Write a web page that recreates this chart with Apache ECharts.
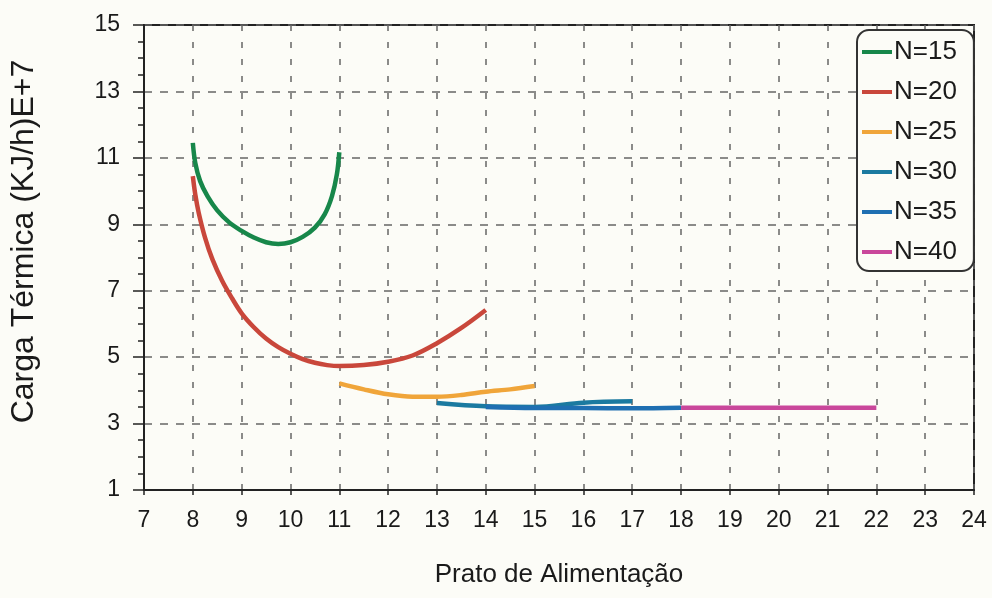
<!DOCTYPE html>
<html>
<head>
<meta charset="utf-8">
<script src="https://cdn.jsdelivr.net/npm/echarts@6/dist/echarts.min.js"></script>
<style>
html,body{margin:0;padding:0;background:#fcfcf7;}
#chart{width:992px;height:598px;}
</style>
</head>
<body>
<div id="chart"></div>
<script>
// ---- data ----
const seriesNames = ["N=15", "N=20", "N=25", "N=30", "N=35", "N=40"];
const seriesColors = ["#17874a", "#c9473b", "#f0a53a", "#1b7aa0", "#1f6fb2", "#c9479b"];

const feed15 = [8.0, 8.05, 8.15, 8.3, 8.5, 8.75, 9.0, 9.25, 9.5, 9.75, 10.0, 10.25, 10.5, 10.7, 10.85, 10.95, 11.0];
const load15 = [11.45, 10.85, 10.3, 9.85, 9.42, 9.05, 8.8, 8.6, 8.46, 8.41, 8.46, 8.62, 8.9, 9.3, 9.85, 10.5, 11.17];

const feed20 = [8.0, 8.05, 8.12, 8.25, 8.4, 8.6, 8.8, 9.0, 9.25, 9.5, 9.75, 10.0, 10.25, 10.5, 10.75, 11.0, 11.5, 12.0, 12.5, 13.0, 13.5, 14.0];
const load20 = [10.45, 9.9, 9.35, 8.6, 7.95, 7.3, 6.78, 6.32, 5.9, 5.56, 5.3, 5.1, 4.94, 4.83, 4.76, 4.73, 4.76, 4.86, 5.05, 5.42, 5.88, 6.42];

const feed25 = [11, 11.5, 12, 12.5, 13, 13.5, 14, 14.5, 15];
const load25 = [4.21, 4.03, 3.88, 3.81, 3.81, 3.86, 3.96, 4.03, 4.13];

const feed30 = [13, 14, 15, 16, 17];
const load30 = [3.62, 3.52, 3.50, 3.63, 3.67];

const feed35 = [14, 15, 16, 17, 18];
const load35 = [3.50, 3.47, 3.47, 3.46, 3.48];

const feed40 = [18, 19, 20, 21, 22];
const load40 = [3.48, 3.48, 3.48, 3.48, 3.48];

const xTicks = {min: 7, max: 24, step: 1};
const yTicks = {min: 1, max: 15, step: 2};

// ---- build ----
const feeds = [feed15, feed20, feed25, feed30, feed35, feed40];
const loads = [load15, load20, load25, load30, load35, load40];

const FONT = "'Liberation Sans', Arial, sans-serif";
const chart = echarts.init(document.getElementById('chart'));

const series = seriesNames.map((name, i) => ({
  name: name,
  type: 'line',
  smooth: 0.35,
  showSymbol: false,
  symbol: 'none',
  lineStyle: {width: 4.5, color: seriesColors[i]},
  itemStyle: {color: seriesColors[i]},
  data: feeds[i].map((x, k) => [x, loads[i][k]])
}));

chart.setOption({
  backgroundColor: '#fcfcf7',
  animation: false,
  grid: {
    left: 144, right: 18, top: 25, bottom: 108,
    show: true, borderColor: '#222', borderWidth: 2, backgroundColor: 'transparent'
  },
  legend: {
    orient: 'vertical',
    left: 857, top: 30,
    padding: [9, 17, 6, 5],
    itemGap: 14,
    itemWidth: 30,
    itemHeight: 4,
    icon: 'rect',
    borderColor: '#333',
    borderWidth: 2,
    borderRadius: 12,
    backgroundColor: '#fcfcf7',
    textStyle: {fontFamily: FONT, fontSize: 26, color: '#1a1a1a', lineHeight: 25, padding: [0, 0, 0, -3]},
    data: seriesNames
  },
  xAxis: {
    type: 'value',
    min: xTicks.min, max: xTicks.max, interval: xTicks.step,
    name: 'Prato de Alimentação',
    nameLocation: 'middle',
    nameGap: 72,
    nameTextStyle: {fontFamily: FONT, fontSize: 26, color: '#1a1a1a'},
    axisLine: {show: true, lineStyle: {color: '#222', width: 2}},
    axisTick: {show: true, length: 5, lineStyle: {color: '#222', width: 1.5}},
    axisLabel: {fontFamily: FONT, fontSize: 23, color: '#1a1a1a', margin: 19},
    splitLine: {show: true, lineStyle: {color: '#666', width: 1.5, type: [6, 11]}}
  },
  yAxis: {
    type: 'value',
    min: yTicks.min, max: yTicks.max, interval: yTicks.step,
    name: 'Carga Térmica (KJ/h)E+7',
    nameLocation: 'middle',
    nameGap: 104,
    nameTextStyle: {fontFamily: FONT, fontSize: 32, color: '#1a1a1a', padding: [0, 0, 0, 32]},
    axisLine: {show: true, lineStyle: {color: '#222', width: 2}},
    axisTick: {show: true, length: 11, lineStyle: {color: '#222', width: 1.5}},
    minorTick: {show: true, splitNumber: 4, length: 6, lineStyle: {color: '#222', width: 1.5}},
    axisLabel: {fontFamily: FONT, fontSize: 23, color: '#1a1a1a', margin: 24},
    splitLine: {show: true, lineStyle: {color: '#666', width: 1.5, type: [8, 8]}}
  },
  series: series
});
</script>
</body>
</html>
